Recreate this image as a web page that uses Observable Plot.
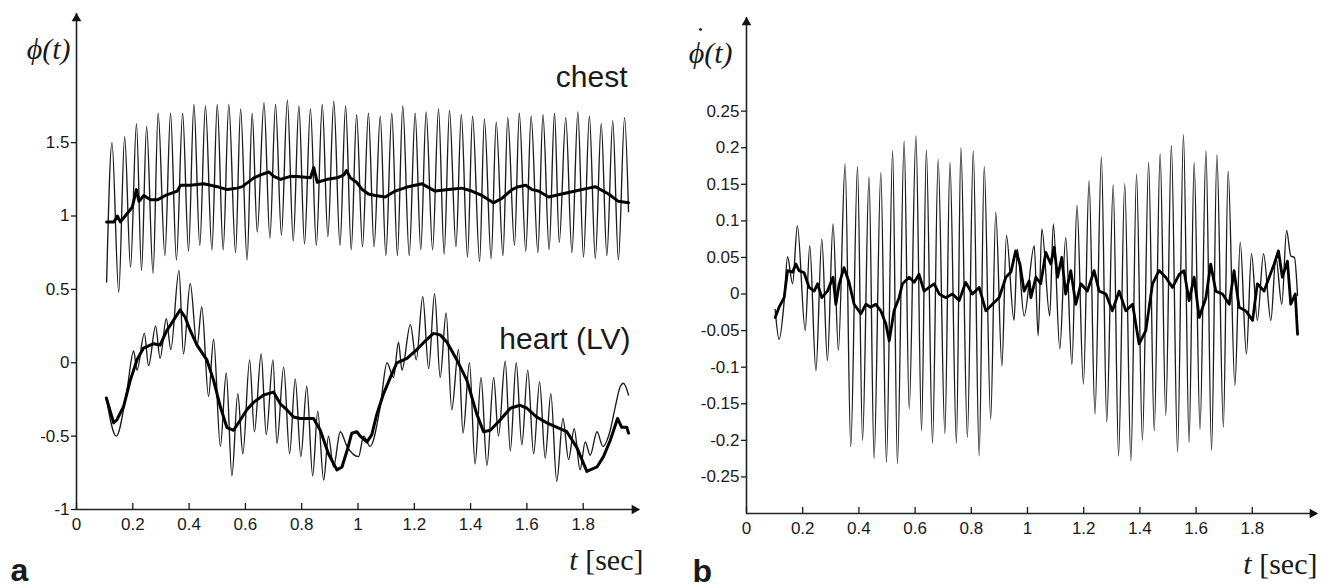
<!DOCTYPE html>
<html><head><meta charset="utf-8">
<script src="https://cdn.jsdelivr.net/npm/d3@7"></script>
<script src="https://cdn.jsdelivr.net/npm/@observablehq/plot@0.6"></script>
<style>
body{margin:0;background:#fff;}
#wrap{display:flex;width:1333px;height:588px;overflow:hidden;}
#wrap svg{overflow:visible;}
</style></head><body><div id="wrap"></div>
<script>
// ---------- Panel a : phase phi(t) ----------
const chestT = [0.107,0.126,0.150,0.171,0.192,0.213,0.231,0.249,0.272,0.290,0.314,0.334,0.355,0.377,0.398,0.417,0.438,0.458,0.481,0.500,0.521,0.541,0.565,0.583,0.606,0.624,0.642,0.666,0.687,0.707,0.728,0.749,0.770,0.790,0.810,0.831,0.852,0.873,0.893,0.914,0.936,0.956,0.976,0.995,1.016,1.037,1.057,1.079,1.099,1.120,1.140,1.159,1.182,1.203,1.223,1.242,1.265,1.286,1.306,1.325,1.348,1.367,1.389,1.407,1.432,1.449,1.473,1.491,1.515,1.532,1.556,1.573,1.596,1.615,1.639,1.657,1.679,1.698,1.715,1.738,1.760,1.781,1.801,1.822,1.843,1.864,1.884,1.905,1.925,1.947,1.961];
const chestV = [0.55,1.50,0.48,1.54,0.65,1.63,0.63,1.61,0.61,1.70,0.73,1.70,0.70,1.70,0.76,1.76,0.80,1.75,0.77,1.76,0.77,1.76,0.75,1.73,0.70,1.70,0.89,1.77,0.85,1.76,0.87,1.79,0.83,1.75,0.81,1.73,0.80,1.76,0.86,1.78,0.80,1.75,0.77,1.69,0.79,1.70,0.79,1.68,0.73,1.70,0.73,1.75,0.73,1.70,0.77,1.71,0.77,1.73,0.74,1.72,0.79,1.69,0.72,1.68,0.69,1.66,0.71,1.64,0.73,1.67,0.80,1.70,0.76,1.68,0.75,1.69,0.77,1.70,0.82,1.67,0.75,1.71,0.72,1.68,0.71,1.63,0.73,1.65,0.70,1.67,1.03];

const chestMeanT = [0.107,0.133,0.145,0.156,0.198,0.213,0.222,0.239,0.263,0.287,0.316,0.358,0.370,0.405,0.452,0.500,0.535,0.571,0.589,0.630,0.654,0.683,0.701,0.725,0.760,0.784,0.831,0.843,0.855,0.891,0.926,0.950,0.959,0.973,0.995,1.015,1.037,1.061,1.097,1.132,1.179,1.227,1.245,1.274,1.322,1.369,1.404,1.440,1.481,1.511,1.547,1.570,1.596,1.618,1.641,1.677,1.724,1.772,1.819,1.843,1.890,1.925,1.961];
const chestMeanV = [0.96,0.96,1.00,0.96,1.06,1.18,1.10,1.14,1.11,1.11,1.14,1.17,1.21,1.21,1.22,1.20,1.18,1.19,1.20,1.26,1.28,1.30,1.27,1.25,1.27,1.27,1.26,1.33,1.23,1.25,1.26,1.28,1.31,1.26,1.23,1.18,1.15,1.14,1.13,1.17,1.20,1.22,1.20,1.17,1.18,1.19,1.17,1.14,1.09,1.12,1.18,1.20,1.21,1.18,1.17,1.13,1.15,1.17,1.19,1.20,1.15,1.10,1.09];

const heartT = [0.106,0.141,0.179,0.203,0.215,0.241,0.256,0.281,0.297,0.319,0.335,0.364,0.380,0.404,0.428,0.445,0.469,0.487,0.511,0.532,0.552,0.573,0.591,0.615,0.632,0.656,0.674,0.698,0.712,0.736,0.757,0.777,0.797,0.818,0.839,0.857,0.878,0.895,0.913,0.937,0.961,1.002,1.020,1.043,1.079,1.103,1.126,1.144,1.156,1.186,1.207,1.230,1.251,1.272,1.292,1.313,1.333,1.357,1.373,1.396,1.416,1.437,1.458,1.482,1.499,1.523,1.541,1.562,1.582,1.603,1.624,1.645,1.665,1.685,1.706,1.728,1.748,1.768,1.789,1.807,1.825,1.849,1.870,1.896,1.914,1.932,1.943,1.961];
const heartV = [-0.24,-0.50,-0.19,0.08,-0.05,0.20,-0.02,0.25,0.03,0.30,0.09,0.63,0.06,0.54,0.11,0.38,-0.23,0.16,-0.57,-0.07,-0.77,-0.21,-0.62,0.02,-0.47,0.06,-0.49,0.02,-0.55,-0.03,-0.62,-0.11,-0.64,-0.16,-0.77,-0.33,-0.80,-0.50,-0.71,-0.47,-0.57,-0.64,-0.50,-0.57,-0.30,0.00,-0.10,0.14,-0.05,0.26,0.02,0.45,-0.04,0.47,-0.10,0.34,-0.32,0.09,-0.48,0.00,-0.69,-0.10,-0.70,-0.10,-0.50,0.01,-0.60,0.00,-0.56,-0.05,-0.62,-0.13,-0.65,-0.21,-0.81,-0.38,-0.66,-0.45,-0.73,-0.54,-0.63,-0.47,-0.57,-0.46,-0.30,-0.16,-0.14,-0.22];

const heartMeanT = [0.106,0.132,0.143,0.167,0.191,0.215,0.238,0.274,0.297,0.321,0.345,0.368,0.386,0.404,0.428,0.463,0.487,0.511,0.534,0.558,0.582,0.605,0.629,0.665,0.700,0.724,0.747,0.771,0.795,0.842,0.866,0.895,0.925,0.943,0.961,0.978,0.996,1.008,1.032,1.049,1.067,1.091,1.115,1.138,1.174,1.209,1.245,1.268,1.292,1.316,1.351,1.387,1.422,1.446,1.470,1.505,1.541,1.576,1.600,1.635,1.671,1.707,1.742,1.778,1.813,1.849,1.872,1.896,1.922,1.937,1.955,1.961];
const heartMeanV = [-0.24,-0.41,-0.39,-0.30,-0.12,0.02,0.10,0.13,0.12,0.22,0.29,0.36,0.31,0.22,0.12,0.02,-0.12,-0.30,-0.44,-0.46,-0.39,-0.32,-0.27,-0.22,-0.20,-0.28,-0.32,-0.37,-0.38,-0.38,-0.46,-0.62,-0.73,-0.71,-0.60,-0.48,-0.47,-0.50,-0.54,-0.49,-0.35,-0.21,-0.10,0.00,0.03,0.09,0.16,0.20,0.19,0.14,0.02,-0.12,-0.35,-0.47,-0.46,-0.39,-0.31,-0.29,-0.31,-0.37,-0.41,-0.44,-0.47,-0.58,-0.74,-0.71,-0.64,-0.53,-0.38,-0.44,-0.44,-0.48];

// ---------- Panel b : phase rate dphi/dt ----------
const rateT = [0.102,0.116,0.134,0.146,0.164,0.181,0.209,0.225,0.247,0.268,0.288,0.308,0.327,0.351,0.371,0.395,0.413,0.436,0.454,0.478,0.498,0.520,0.537,0.561,0.579,0.603,0.623,0.640,0.662,0.682,0.706,0.724,0.747,0.763,0.786,0.807,0.828,0.846,0.869,0.887,0.909,0.925,0.952,0.964,0.988,1.024,1.038,1.051,1.079,1.092,1.115,1.136,1.158,1.176,1.199,1.219,1.240,1.263,1.282,1.305,1.324,1.346,1.368,1.388,1.409,1.431,1.451,1.472,1.492,1.512,1.534,1.555,1.575,1.593,1.614,1.635,1.655,1.674,1.697,1.714,1.738,1.757,1.779,1.797,1.818,1.840,1.866,1.884,1.905,1.922,1.937,1.950,1.961];
const rateV = [-0.021,-0.062,-0.010,0.051,0.014,0.093,-0.050,0.066,-0.105,0.075,-0.091,0.096,-0.077,0.178,-0.209,0.174,-0.200,0.160,-0.225,0.166,-0.230,0.196,-0.232,0.209,-0.157,0.216,-0.187,0.197,-0.204,0.184,-0.191,0.180,-0.204,0.200,-0.196,0.196,-0.221,0.174,-0.171,0.112,-0.098,0.080,-0.036,0.061,-0.030,0.066,-0.057,0.089,-0.030,0.096,-0.075,0.077,-0.096,0.121,-0.123,0.155,-0.164,0.187,-0.175,0.149,-0.221,0.151,-0.228,0.164,-0.200,0.180,-0.187,0.192,-0.166,0.203,-0.216,0.218,-0.203,0.180,-0.185,0.196,-0.214,0.190,-0.182,0.168,-0.125,0.071,-0.082,0.055,-0.036,0.055,-0.036,0.050,-0.014,0.087,0.052,0.050,-0.002];

const rateMeanT = [0.102,0.116,0.134,0.146,0.164,0.176,0.187,0.205,0.223,0.241,0.253,0.268,0.288,0.308,0.318,0.330,0.347,0.365,0.383,0.407,0.425,0.442,0.460,0.478,0.496,0.508,0.525,0.543,0.555,0.579,0.597,0.614,0.632,0.650,0.668,0.686,0.709,0.733,0.757,0.780,0.804,0.828,0.852,0.875,0.899,0.923,0.941,0.958,0.973,0.988,1.006,1.012,1.030,1.047,1.065,1.083,1.095,1.107,1.122,1.136,1.154,1.172,1.190,1.213,1.237,1.255,1.279,1.302,1.326,1.350,1.374,1.397,1.421,1.445,1.468,1.492,1.516,1.540,1.557,1.575,1.593,1.611,1.635,1.652,1.670,1.694,1.718,1.735,1.753,1.777,1.801,1.818,1.842,1.860,1.878,1.893,1.907,1.925,1.937,1.953,1.961];
const rateMeanV = [-0.032,-0.018,-0.005,0.032,0.030,0.041,0.032,0.029,0.009,0.004,0.014,-0.005,0.004,0.023,-0.014,0.014,0.036,0.016,-0.014,-0.027,-0.014,-0.018,-0.014,-0.023,-0.041,-0.064,-0.023,-0.005,0.014,0.023,0.016,0.027,0.004,0.009,0.014,0.000,-0.005,0.000,-0.009,0.016,0.000,0.009,-0.023,-0.014,-0.005,0.023,0.030,0.059,0.041,0.004,0.018,-0.005,0.023,0.014,0.057,0.041,0.064,0.023,0.050,0.000,0.032,-0.014,0.014,0.004,0.032,0.004,0.000,-0.023,0.004,-0.023,-0.014,-0.068,-0.050,0.014,0.032,0.023,0.009,0.027,0.032,-0.009,0.023,-0.032,-0.005,0.041,0.004,0.000,-0.014,0.032,-0.018,-0.023,-0.036,0.014,0.004,0.023,0.041,0.059,0.023,0.045,-0.014,0.000,-0.055];

// ---------- ticks ----------
const xTicks = [0, 0.2, 0.4, 0.6, 0.8, 1, 1.2, 1.4, 1.6, 1.8];
const yTicksA = [-1, -0.5, 0, 0.5, 1, 1.5];
const yTicksB = [-0.25, -0.2, -0.15, -0.1, -0.05, 0, 0.05, 0.1, 0.15, 0.2, 0.25];

const pts = (T, V) => T.map((t, i) => ({t, v: V[i]}));
const serif = "'Liberation Serif', 'Times New Roman', serif";
const sans = "'Liberation Sans', Arial, Helvetica, sans-serif";

function panel(o) {
  const [x0, xEnd] = o.xAxis;
  const [y0, yTop] = o.yDomain;
  return Plot.plot({
    width: o.width, height: 588,
    marginLeft: o.ml, marginRight: o.mr, marginTop: o.mt, marginBottom: o.mb,
    x: {domain: [0, 2]},
    y: {domain: o.yDomain},
    style: {fontFamily: sans, fontSize: "17px", color: "#1a1a1a", background: "white", overflow: "visible"},
    marks: [
      ...o.thin.map(([T, V]) => Plot.line(pts(T, V), {x: "t", y: "v", stroke: "#1c1c1c", strokeWidth: 1.35, curve: "monotone-x"})),
      ...o.thick.map(([T, V]) => Plot.line(pts(T, V), {x: "t", y: "v", stroke: "#000", strokeWidth: o.thickWidth, strokeLinejoin: "round"})),
      Plot.ruleX([x0], {y1: y0, y2: yTop, stroke: "#222", strokeWidth: 1.6}),
      Plot.ruleY([y0], {x1: x0, x2: xEnd, stroke: "#222", strokeWidth: 1.6}),
      Plot.dot([{x: x0, y: yTop}], {x: "x", y: "y", symbol: "triangle", r: 3.6, fill: "#111", stroke: null, dy: 5}),
      Plot.dot([{x: xEnd, y: y0}], {x: "x", y: "y", symbol: "triangle", r: 3.6, fill: "#111", stroke: null, rotate: 90, dx: -5}),
      Plot.axisX(xTicks, {tickSize: -6, tickPadding: 14, tickFormat: d => String(d), label: null, strokeWidth: 1.3, fontSize: 17}),
      Plot.axisY(o.yTicks, {tickSize: 5, tickPadding: 2, tickFormat: d => String(d), label: null, strokeWidth: 1.3, fontSize: 17}),
      ...o.texts
    ]
  });
}

const plotA = panel({
  width: 666, ml: 76, mr: 27, mt: 13, mb: 79,
  xAxis: [0, 2.0], yDomain: [-1, 2.38], yTicks: yTicksA,
  thin: [[chestT, chestV], [heartT, heartV]],
  thick: [[chestMeanT, chestMeanV], [heartMeanT, heartMeanV]], thickWidth: 3,
  texts: [
    Plot.text(["ϕ(t)"], {frameAnchor: "top-left", dx: -6, dy: 45, textAnchor: "end", lineAnchor: "bottom", fontFamily: serif, fontStyle: "italic", fontSize: 30}),
    Plot.text(["chest"], {frameAnchor: "top-right", dx: -12, dy: 73, textAnchor: "end", lineAnchor: "bottom", fontSize: 30}),
    Plot.text(["heart (LV)"], {frameAnchor: "top-right", dx: -9, dy: 335, textAnchor: "end", lineAnchor: "bottom", fontSize: 30}),
    Plot.text(["[sec]"], {frameAnchor: "bottom-right", dx: 4, dy: 60, textAnchor: "end", lineAnchor: "bottom", fontFamily: serif, fontSize: 30}),
    Plot.text(["t"], {frameAnchor: "bottom-right", dx: -62, dy: 60, textAnchor: "end", lineAnchor: "bottom", fontFamily: serif, fontStyle: "italic", fontSize: 30}),
    Plot.text(["a"], {frameAnchor: "bottom-left", dx: -66, dy: 71, textAnchor: "start", lineAnchor: "bottom", fontWeight: "bold", fontSize: 32})
  ]
});

const plotB = panel({
  width: 667, ml: 80, mr: 25, mt: 17, mb: 75,
  xAxis: [0, 2.032], yDomain: [-0.3, 0.378], yTicks: yTicksB,
  thin: [[rateT, rateV]],
  thick: [[rateMeanT, rateMeanV]], thickWidth: 2.8,
  texts: [
    Plot.text(["ϕ(t)"], {frameAnchor: "top-left", dx: -14, dy: 45, textAnchor: "end", lineAnchor: "bottom", fontFamily: serif, fontStyle: "italic", fontSize: 30}),
    Plot.text(["•"], {frameAnchor: "top-left", dx: -46, dy: 15, textAnchor: "middle", lineAnchor: "bottom", fontFamily: sans, fontSize: 11}),
    Plot.text(["[sec]"], {frameAnchor: "bottom-right", dx: 9, dy: 60, textAnchor: "end", lineAnchor: "bottom", fontFamily: serif, fontSize: 30}),
    Plot.text(["t"], {frameAnchor: "bottom-right", dx: -57, dy: 60, textAnchor: "end", lineAnchor: "bottom", fontFamily: serif, fontStyle: "italic", fontSize: 30}),
    Plot.text(["b"], {frameAnchor: "bottom-left", dx: -54, dy: 68, textAnchor: "start", lineAnchor: "bottom", fontWeight: "bold", fontSize: 32})
  ]
});

document.getElementById("wrap").append(plotA, plotB);
</script></body></html>
